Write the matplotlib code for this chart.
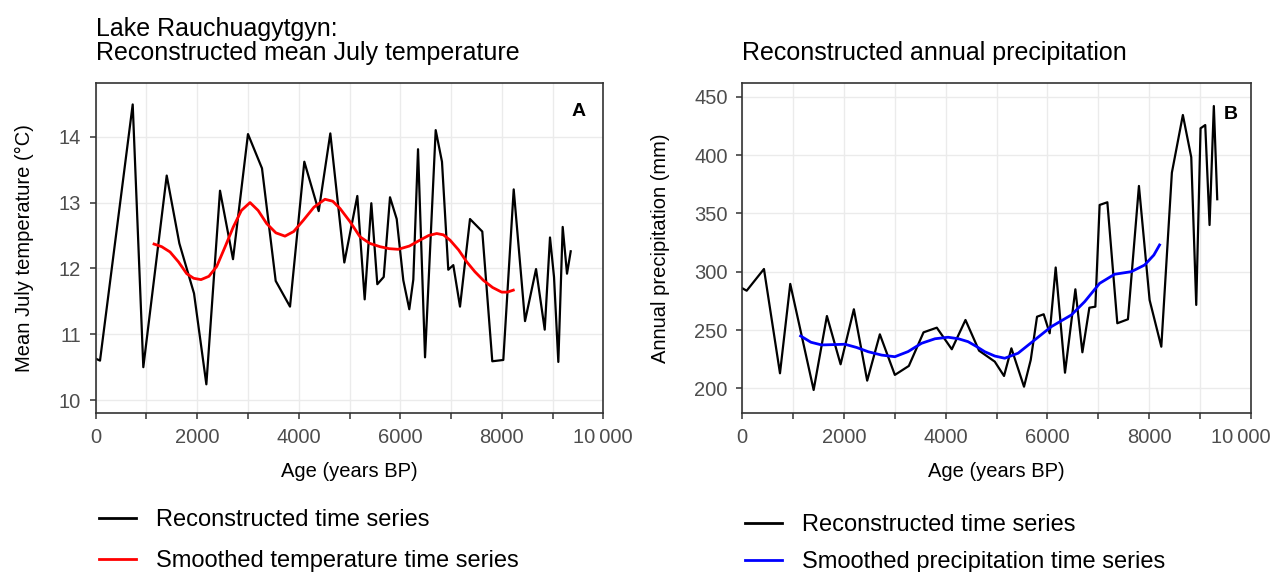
import matplotlib
matplotlib.use('Agg')
import matplotlib.pyplot as plt
from matplotlib.lines import Line2D
from matplotlib.transforms import ScaledTranslation

plt.rcParams['font.family'] = ['Liberation Sans', 'DejaVu Sans']

# reconstructed July temperature (black line, panel A)
temp_age = [0, 85, 729, 938, 1399, 1648, 1937, 2180, 2449, 2705, 3000, 3276, 3546, 3828,
            4110, 4393, 4622, 4898, 5154, 5299, 5430, 5548, 5674, 5798, 5930, 6060, 6178,
            6257, 6350, 6488, 6698, 6822, 6946, 7045, 7177, 7374, 7616, 7813, 8030, 8235,
            8458, 8675, 8846, 8950, 9029, 9114, 9200, 9285, 9358]
temp_val = [10.63, 10.60, 14.49, 10.50, 13.41, 12.38, 11.62, 10.24, 13.18, 12.14, 14.04, 13.52,
            11.81, 11.42, 13.62, 12.87, 14.05, 12.09, 13.10, 11.53, 12.99, 11.76, 11.87, 13.08,
            12.75, 11.82, 11.38, 11.83, 13.81, 10.65, 14.10, 13.62, 11.98, 12.05, 11.42, 12.75,
            12.56, 10.59, 10.61, 13.20, 11.20, 11.99, 11.07, 12.47, 11.87, 10.58, 12.63, 11.92,
            12.26]

# smoothed temperature (red)
temp_smooth_age = [1149, 1300, 1464, 1630, 1793, 1930, 2075, 2230, 2384, 2550, 2711, 2870, 3040,
                   3200, 3369, 3550, 3729, 3900, 4090, 4300, 4517, 4670, 4813, 5010, 5207, 5400,
                   5601, 5780, 5961, 6180, 6389, 6560, 6718, 6850, 6980, 7150, 7309, 7470, 7636,
                   7820, 7998, 8110, 8227]
temp_smooth_val = [12.37, 12.33, 12.25, 12.10, 11.92, 11.85, 11.83, 11.88, 12.03, 12.33, 12.63,
                   12.88, 13.00, 12.88, 12.68, 12.54, 12.49, 12.56, 12.73, 12.93, 13.05, 13.02,
                   12.91, 12.71, 12.48, 12.38, 12.33, 12.30, 12.29, 12.34, 12.43, 12.50, 12.53,
                   12.51, 12.43, 12.28, 12.10, 11.95, 11.82, 11.71, 11.64, 11.64, 11.67]

# reconstructed annual precipitation (black line, panel B)
prec_age = [0, 86, 426, 741, 943, 1403, 1664, 1933, 2194, 2456, 2705, 3000, 3275, 3564, 3825,
            4120, 4389, 4656, 4965, 5147, 5292, 5540, 5672, 5796, 5927, 6045, 6163, 6346, 6550,
            6688, 6825, 6943, 7027, 7179, 7375, 7584, 7800, 8010, 8240, 8448, 8664, 8829, 8927,
            9012, 9104, 9189, 9273, 9340]
prec_val = [285.8, 283.7, 302.3, 212.9, 289.5, 198.6, 262.0, 220.6, 267.8, 206.6, 246.3, 211.5,
            219.2, 248.0, 252.0, 233.5, 258.6, 232.3, 222.9, 210.6, 234.3, 201.4, 224.3, 261.4,
            263.5, 247.2, 303.6, 213.4, 284.9, 230.9, 269.1, 270.0, 357.2, 359.5, 255.8, 259.2,
            373.5, 275.7, 235.7, 384.9, 434.3, 398.1, 271.5, 422.9, 425.7, 340.0, 442.0, 362.1]

# smoothed precipitation (blue)
prec_smooth_age = [1147, 1350, 1560, 1800, 2018, 2250, 2475, 2740, 3000, 3260, 3524, 3790, 4047,
                   4250, 4440, 4600, 4768, 4965, 5161, 5423, 5750, 6078, 6471, 6733, 7027, 7322,
                   7650, 7911, 8094, 8206]
prec_smooth_val = [244.9, 239.5, 237.2, 237.5, 237.8, 235.0, 231.4, 228.5, 227.1, 231.5, 238.6,
                   242.5, 243.8, 242.5, 240.0, 236.0, 231.4, 227.7, 225.8, 230.1, 241.5, 252.9,
                   262.9, 274.3, 290.0, 297.8, 300.0, 305.7, 314.3, 322.9]

xticks = list(range(0, 10001, 1000))
xlabels = ['0', '', '2000', '', '4000', '', '6000', '', '8000', '', '10\u2009000']

W, H = 1273, 572
fig = plt.figure(figsize=(W / 100, H / 100), dpi=100)
ax1 = fig.add_axes([95.7 / W, 1 - 413.3 / H, 507.6 / W, 330.6 / H])
ax2 = fig.add_axes([742.3 / W, 1 - 413.3 / H, 508.5 / W, 330.6 / H])


def style(ax):
    ax.set_xlim(0, 10000)
    ax.set_xticks(xticks)
    ax.set_xticklabels(xlabels)
    ax.grid(True, color='#EBEBEB', linewidth=1.0)
    ax.set_axisbelow(True)
    for s in ax.spines.values():
        s.set_color('#333333')
        s.set_linewidth(1.2)
    ax.tick_params(length=4, width=1.1, color='#333333', labelcolor='#4D4D4D',
                   labelsize=14.5, pad=6.5)
    ax.set_xlabel('Age (years BP)', fontsize=14.5, labelpad=11)


# panel A
ax1.plot(temp_age, temp_val, color='black', linewidth=1.6)
ax1.plot(temp_smooth_age, temp_smooth_val, color='#FF0000', linewidth=2.0)
style(ax1)
ax1.set_ylim(9.8, 14.82)
ax1.set_yticks([10, 11, 12, 13, 14])
ax1.set_ylabel('Mean July temperature (°C)', fontsize=14.5, labelpad=17.5)
ax1.set_title('Lake Rauchuagytgyn:\nReconstructed mean July temperature', loc='left',
              fontsize=18, pad=16, linespacing=1.0)
ax1.text(0.952, 0.914, 'A', transform=ax1.transAxes, ha='center', va='center',
         fontsize=14, fontweight='bold')

# panel B
ax2.plot(prec_age, prec_val, color='black', linewidth=1.6)
ax2.plot(prec_smooth_age, prec_smooth_val, color='#0000FF', linewidth=2.0)
style(ax2)
ax2.set_ylim(178.6, 462)
ax2.set_yticks([200, 250, 300, 350, 400, 450])
ax2.set_ylabel('Annual precipitation (mm)', fontsize=14.5, labelpad=17.5)
ax2.set_title('Reconstructed annual precipitation', loc='left', fontsize=18, pad=16)
ax2.text(0.961, 0.905, 'B', transform=ax2.transAxes, ha='center', va='center',
         fontsize=14, fontweight='bold')

# keep the last tick label of panel B inside the figure
last = ax2.get_xticklabels()[-1]
last.set_transform(last.get_transform() + ScaledTranslation(-0.1, 0, fig.dpi_scale_trans))

# legends below each panel
leg_kw = dict(loc='upper left', frameon=False, fontsize=17, handlelength=1.55,
              handletextpad=0.85, borderpad=0, borderaxespad=0)
fig.legend([Line2D([], [], color='black', linewidth=2), Line2D([], [], color='#FF0000', linewidth=2)],
           ['Reconstructed time series', 'Smoothed temperature time series'],
           bbox_to_anchor=(99 / W, 1 - 509 / H), labelspacing=0.8, **leg_kw)
fig.legend([Line2D([], [], color='black', linewidth=2), Line2D([], [], color='#0000FF', linewidth=2)],
           ['Reconstructed time series', 'Smoothed precipitation time series'],
           bbox_to_anchor=(745 / W, 1 - 514 / H), labelspacing=0.63, **leg_kw)

fig.savefig('out.png', dpi=100)
